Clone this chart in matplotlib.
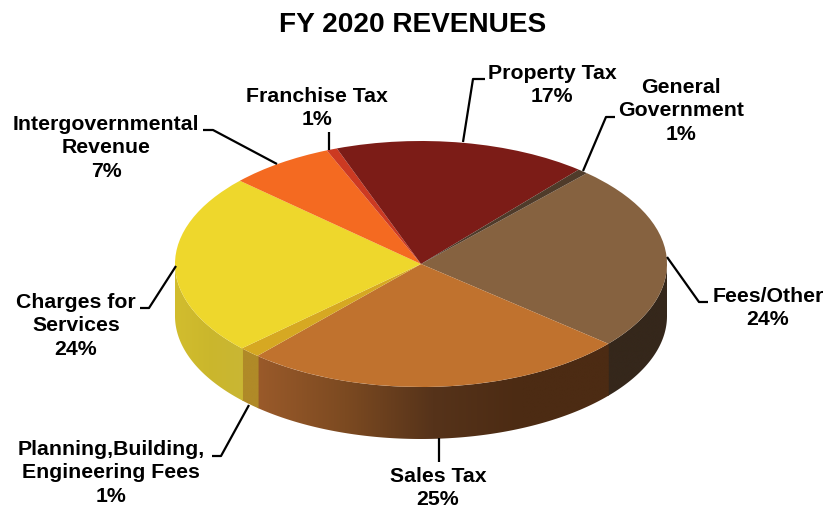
import numpy as np
import matplotlib
matplotlib.use('Agg')
import matplotlib.pyplot as plt
from matplotlib.colors import LinearSegmentedColormap
from matplotlib.patches import Polygon

plt.rcParams['font.family'] = ['Liberation Sans', 'DejaVu Sans']

# clockwise from the top right
names = ['Fees/Other', 'Sales Tax', 'Planning,Building,\nEngineering Fees', 'Charges for\nServices',
         'Intergovernmental\nRevenue', 'Franchise Tax', 'Property Tax', 'General\nGovernment']
shares = [24.4, 25.3, 1.4, 23.8, 6.9, 0.7, 16.6, 0.7]
pct_labels = ['24%', '25%', '1%', '24%', '7%', '1%', '17%', '1%']
top_colors = ['#866240', '#c0722e', '#d6a822', '#eed72c', '#f46a21', '#cc3a22', '#7c1c17', '#4f3b2a']
# wall colours, left to right
side_colors = [['#35271b', '#35271b'], ['#9a5a2a', '#7c4a21', '#56331a', '#4c2b13', '#4c2b13'], ['#b08a28', '#b08a28'],
               ['#d2bd2e', '#cbb72c', '#c9b634'], ['#c4581c', '#c4581c'], ['#a02d1b', '#a02d1b'],
               ['#5f1612', '#5f1612'], ['#3a2b1f', '#3a2b1f']]

W, H = 827, 510
CX, CY, RX, RY = 421, 265, 246, 123
DEPTH = 52 / RY
START = 47.6

fig = plt.figure(figsize=(W / 100, H / 100), dpi=100)
bottom = (H - (CY + RY + DEPTH * RY)) / H
ax = fig.add_axes([(CX - RX) / W, bottom, 2 * RX / W, (2 * RY + DEPTH * RY) / H])

ax.pie(shares, colors=top_colors, startangle=START, counterclock=False,
       wedgeprops={'linewidth': 0, 'antialiased': True, 'zorder': 3})

# wall of the cylinder, a horizontal gradient clipped to each visible piece
ends = START - np.cumsum(shares) * 3.6
starts = ends + np.array(shares) * 3.6
for a0, a1, cols in zip(starts, ends, side_colors):
    a0, a1 = min(a0, 0), max(a1, -180)
    if a0 <= a1:
        continue
    # a little overlap so no white seam shows between pieces
    th = np.radians(np.linspace(a0, a1 - 0.4, 200))
    xs, ys = np.cos(th), np.sin(th)
    outline = np.r_[np.c_[xs, ys], np.c_[xs, ys - DEPTH][::-1]]
    cmap = LinearSegmentedColormap.from_list('side', cols)
    img = ax.imshow(np.linspace(0, 1, 256)[None, :], cmap=cmap, aspect='auto', zorder=1,
                    extent=(xs.min(), xs.max(), -1 - DEPTH, 0), interpolation='bilinear')
    img.set_clip_path(Polygon(outline, transform=ax.transData))

ax.set_aspect('auto')
ax.set_xlim(-1, 1)
ax.set_ylim(-1 - DEPTH, 1)

# overlay in pixels for title, labels and leader lines
ov = fig.add_axes([0, 0, 1, 1], facecolor='none')
ov.set_xlim(0, W)
ov.set_ylim(H, 0)
ov.axis('off')

ov.text(413, 25, 'FY 2020 REVENUES', ha='center', va='center', fontsize=20.2, fontweight='bold')

label_pos = [(768, 308), (438, 488), (111, 473), (76, 326), (106, 148), (317, 108), (552, 85), (681, 111)]
for name, pct, (lx, ly) in zip(names, pct_labels, label_pos):
    ov.text(lx, ly, name + '\n' + pct, ha='center', va='center', fontsize=15.3, fontweight='bold',
            linespacing=1.3, color='black')

leaders = [
    [(667, 258), (699, 303), (708, 303)],
    [(439, 439), (439, 463)],
    [(249, 406), (221, 457), (212, 457)],
    [(176, 267), (149, 309), (140, 309)],
    [(277, 165), (213, 131), (203, 131)],
    [(329, 151), (329, 133)],
    [(463, 143), (473, 80), (485, 80)],
    [(583, 172), (606, 118), (615, 118)],
]
for pts in leaders:
    ov.plot(*zip(*pts), color='black', lw=1.6, solid_capstyle='butt')

fig.savefig('out.png', dpi=100)
